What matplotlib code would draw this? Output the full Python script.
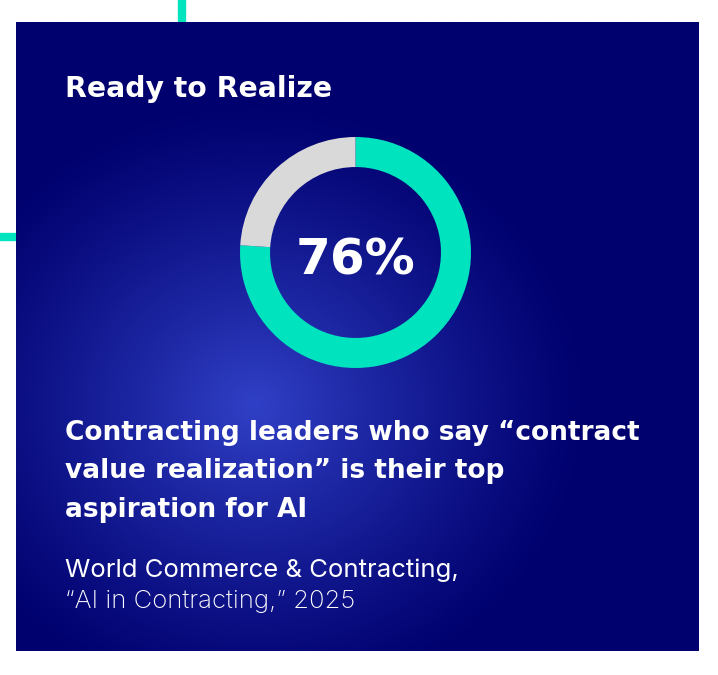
import numpy as np
import matplotlib.pyplot as plt
from matplotlib.colors import LinearSegmentedColormap

# data
share_values = [76, 24]
share_labels = ["Top aspiration", "Other"]
share_colors = ["#00E3BF", "#D9D9D9"]
headline = "Ready to Realize"
big_number = "76%"
description = ["Contracting leaders who say \u201ccontract",
               "value realization\u201d is their top",
               "aspiration for AI"]
source = ["World Commerce & Contracting,", "\u201cAI in Contracting,\u201d 2025"]

W, H = 718, 675
fig = plt.figure(figsize=(W / 100, H / 100), dpi=100)
fig.patch.set_facecolor("white")

ax = fig.add_axes([0, 0, 1, 1])
ax.set_xlim(0, W)
ax.set_ylim(H, 0)
ax.axis("off")

# panel with radial glow
x0, x1, y0, y1 = 16, 699, 22, 651
xx, yy = np.meshgrid(np.linspace(x0, x1, 400), np.linspace(y0, y1, 400))
d = np.sqrt(((xx - 255) / 340) ** 2 + ((yy - 405) / 310) ** 2)
glow = np.clip(1 - d, 0, 1) ** 1.2
cmap = LinearSegmentedColormap.from_list("glow", ["#00006E", "#3040C6"])
ax.imshow(glow, cmap=cmap, extent=[x0, x1, y1, y0], vmin=0, vmax=1,
          interpolation="bilinear", zorder=1, aspect="auto")

# teal accent lines
ax.plot([182, 182], [0, 22], color="#00E3BF", lw=6, solid_capstyle="butt", zorder=2)
ax.plot([0, 16], [237, 237], color="#00E3BF", lw=6, solid_capstyle="butt", zorder=2)

bold_font = "DejaVu Sans"
ax.text(65, 97, headline, color="white", fontsize=20.3, fontweight="bold",
        family=bold_font, va="baseline", ha="left", zorder=3)

for i, line in enumerate(description):
    ax.text(65, 440 + i * 38.5, line, color="white", fontsize=19, fontweight="bold",
            family=bold_font, va="baseline", ha="left", zorder=3)

ax.text(65, 577, source[0], color="white", fontsize=18.5, family="Inter",
        va="baseline", ha="left", zorder=3)
ax.text(65, 608, source[1], color="white", fontsize=18.5, family="Inter",
        fontweight="light", va="baseline", ha="left", zorder=3)

# donut
cx, cy, r = 355.5, 252.5, 115.5
dax = fig.add_axes([(cx - r) / W, 1 - (cy + r) / H, 2 * r / W, 2 * r / H])
dax.pie(share_values, colors=share_colors, startangle=90, counterclock=False,
        radius=1, wedgeprops=dict(width=0.26, linewidth=0))
dax.set_xlim(-1, 1)
dax.set_ylim(-1, 1)
dax.set_aspect("equal")
dax.axis("off")
dax.text(0, -0.07, big_number, color="white", fontsize=36, fontweight="bold",
         family=bold_font, ha="center", va="center")

fig.savefig("out.png", dpi=100)
